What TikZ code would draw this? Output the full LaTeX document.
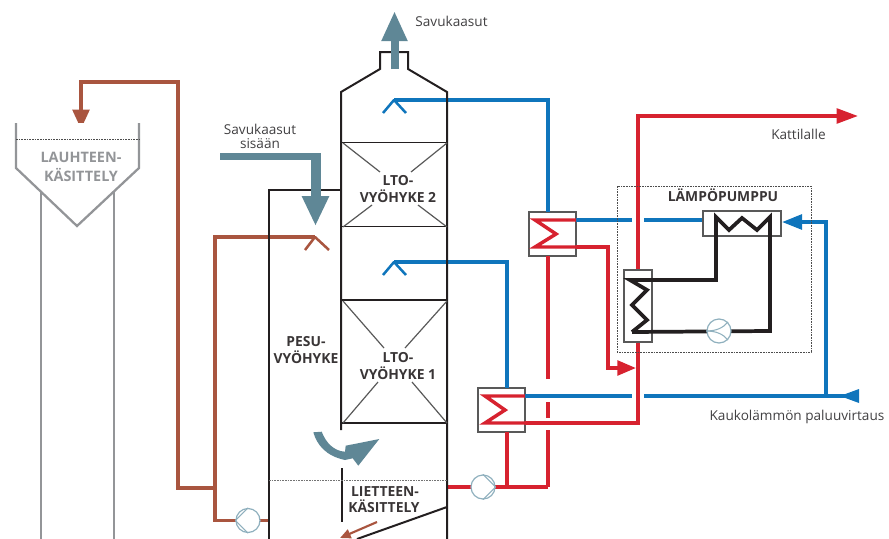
\documentclass[tikz,border=0pt]{standalone}
\usepackage{fontspec}
\setmainfont{Open Sans}
\usetikzlibrary{arrows.meta,calc}
\definecolor{brn}{HTML}{A9553F}
\definecolor{blu}{HTML}{0F75BC}
\definecolor{rd}{HTML}{D7222F}
\definecolor{gas}{HTML}{5F8796}
\definecolor{blk}{HTML}{231F20}
\definecolor{gry}{HTML}{939598}
\definecolor{pmp}{HTML}{8FB0BE}
\definecolor{txt}{HTML}{414042}
\tikzset{
 brownline/.style={draw=brn,line width=2.6pt},
 blueline/.style={draw=blu,line width=2.6pt},
 redline/.style={draw=rd,line width=2.6pt},
 spray/.style={line width=1.9pt,line join=bevel},
 wall/.style={draw=blk,line width=1.5pt},
 thin wall/.style={draw=blk,line width=1.1pt},
 tank/.style={draw=gry,line width=1.7pt},
 diag/.style={draw=black!65,line width=.9pt},
 coil/.style={draw=blk,line width=2.8pt,line join=miter},
 hxbox/.style={draw=black!65,line width=1.2pt,fill=white,inner sep=0pt},
 pump/.style={circle,draw=pmp,line width=.9pt,fill=white,minimum size=18pt,inner sep=0pt},
 pumpin/.style={draw=pmp,line width=.8pt},
 lbl/.style={text=txt,font=\fontsize{10.2}{11}\selectfont,inner sep=0pt},
 zone/.style={text=blk!90,font=\fontsize{10.4}{11}\selectfont\bfseries,inner sep=0pt},
 zonegray/.style={text=gry,font=\fontsize{10.8}{11}\selectfont\bfseries,inner sep=0pt},
}
\begin{document}
\begin{tikzpicture}[x=.75pt,y=-.75pt]
\useasboundingbox (0,0) rectangle (889,539);
\clip (0,0) rectangle (889,539);
% ---- named points
\coordinate (bTop1) at (178,82);
\coordinate (bTop2) at (81,82);
\coordinate (bEnd) at (81,129);
\coordinate (bJoin) at (215,488);
\coordinate (bLow) at (215,520.5);
\coordinate (bCol) at (269,520.5);
\coordinate (sprB) at (315,237);
\coordinate (sprT2) at (394,100);
\coordinate (sprT1) at (394,262);
\coordinate (bv2) at (548,100);
\coordinate (bv1) at (507,262);
\coordinate (gasIn) at (220,156.5);
\coordinate (gasC) at (315.5,156.5);
\coordinate (gasTip) at (315.5,226);
\coordinate (stackB) at (394.5,69);
\coordinate (stackT) at (394.5,11);
% ---- heat exchanger boxes etc.
\node[hxbox,minimum width=35.25pt,minimum height=33pt] (hx2) at (552.5,234) {};
\node[hxbox,minimum width=35.25pt,minimum height=33pt] (hx1) at (501.5,410) {};
\coordinate (hx2t) at (548,212);
\coordinate (hx2b) at (548,256);
\coordinate (hx1t) at (507,388);
\coordinate (hx1b) at (507,432);
\coordinate (h2a) at (576,220);
\coordinate (h2b) at (576,247);
\coordinate (h1a) at (525,396);
\coordinate (h1b) at (525,423);
% ---- brown circuit
\draw[brownline,-{Triangle[length=14.5pt,width=12.5pt]}] (bJoin) -| (bTop1) -- (bTop2) -- (bEnd);
\draw[brownline] (sprB) -| (bLow) -- (bCol);
\draw[brn,spray] (305,250) -- (sprB) -- (329,250);
% ---- red circuit
\coordinate (rLow) at (548,487);
\coordinate (rTee) at (507,487);
\coordinate (rCol) at (447,487);
\coordinate (rBig) at (638,423);
\coordinate (rTop) at (638,116);
\coordinate (rEnd) at (858,116);
\coordinate (rMid) at (608,247);
\coordinate (rMid2) at (608,368);
\coordinate (rTip) at (636,368);
\draw[redline] (rCol) -- (rLow);
\draw[redline] (hx1b) -- (rTee);
\draw[redline] (rLow) -- (548,430);
\draw[redline] (548,418) -- (548,402);
\draw[redline] (548,379) -- (hx2b);
\draw[redline,-{Triangle[length=16pt,width=11pt]}] (h1b) -| (rTop) -- (rEnd);
\draw[redline,-{Triangle[length=14pt,width=11pt]}] (h2b) -- (rMid) -- (rMid2) -- (rTip);
% ---- blue circuit
\coordinate (bRet) at (852,396);
\coordinate (bRetJ) at (826,396);
\coordinate (bRetT) at (826,222);
\coordinate (bHP) at (782,222);
\coordinate (gapL1) at (632,396);
\coordinate (gapR1) at (644,396);
\coordinate (gapL2) at (632,220);
\coordinate (gapR2) at (703,220);
\coordinate (gapM2) at (644,220);
\draw[blu,spray] (383,113) -- (sprT2) -- (406,113);
\draw[blu,spray] (383,275) -- (sprT1) -- (406,275);
\draw[blueline] (sprT2) -- (bv2) -- (hx2t);
\draw[blueline] (sprT1) -- (bv1) -- (hx1t);
\draw[blueline] (h2a) -- (gapL2);
\draw[blueline] (gapM2) -- (gapR2);
\draw[blueline] (h1a) -- (gapL1);
\draw[blueline,-{Triangle[length=15pt,width=11pt]}] (bRetJ) |- (bHP);
\draw[blueline] (gapR1) -- (bRet);
\fill[blu] (840,396) -- (859,389) -- (859,403) -- cycle;
% ---- sigma coils
\draw[redline,line join=miter] (h2a) -- (535,220) -- (556,234) -- (535,247) -- (h2b);
\draw[redline,line join=miter] (h1a) -- (485,396) -- (505,410) -- (485,423) -- (h1b);
% ---- tank
\draw[tank] (41,192) -- (41,539);
\draw[tank] (114,192) -- (114,539);
\draw[tank,fill=white] (16,123) -- (16,168) -- (77,226) -- (139,168) -- (139,123);
\draw[black!70,line width=.5pt,dash pattern=on 1.2pt off .8pt] (16,139.5) -- (139,139.5);
\node[zonegray] (lauh1) at (81,157) {LAUHTEEN-};
\node[zonegray] (lauh2) at (81,175) {KÄSITTELY};
% ---- column
\draw[wall,line join=miter] (341,430) -- (341,92) -- (380,69) -- (380,52) -- (408,52) -- (408,69) -- (447,92) -- (447,539);
\draw[wall] (269,539) -- (269,190) -- (341,190);
\draw[thin wall] (341,142.5) -- (447,142.5);
\draw[thin wall] (341,226.5) -- (447,226.5);
\draw[thin wall] (341,300) -- (447,300);
\draw[thin wall] (341,423) -- (447,423);
\draw[wall] (342,468) -- (342,522);
\draw[wall] (447,507) -- (357,539);
\draw[black!55,line width=.5pt,dash pattern=on 1.2pt off .8pt] (269,480) -- (447,480);
\draw[diag] (343,143) -- (380,172);
\draw[diag] (447,143) -- (411,172);
\draw[diag] (343,227) -- (372,205);
\draw[diag] (447,227) -- (418,205);
\draw[diag] (343,301) -- (384,348);
\draw[diag] (447,301) -- (405,348);
\draw[diag] (343,423) -- (378,382);
\draw[diag] (447,423) -- (412,382);
% ---- gas flows
\draw[gas,line width=5.2pt] (gasIn) -- (gasC) ;
\draw[gas,line width=7.5pt,-{Triangle[length=22.5pt,width=19pt]}] (315.5,153) -- (gasTip);
\draw[gas,line width=6pt,-{Triangle[length=22.5pt,width=18pt]}] (stackB) -- (stackT);
\fill[gas] (313.3,432.3) .. controls (317,445) and (326,456) .. (345,460) -- (352.7,458.3) -- (358.3,465.7) -- (379.3,439) -- (345.7,445.7) -- (345,451.7) .. controls (334,451) and (326,443) .. (321.7,431.7) -- cycle;
\draw[brn,line width=1.6pt,-{Triangle[length=8pt,width=7pt]}] (377,522) -- (340,538);
% ---- heat pump
\draw[black!70,line width=.6pt,dash pattern=on 1.2pt off .8pt] (617,186) rectangle (811,352);
\node[hxbox,minimum width=58.5pt,minimum height=18.75pt] (cond) at (742,223.5) {};
\node[hxbox,minimum width=21pt,minimum height=54pt] (evap) at (638,306) {};
\coordinate (c1) at (716,280);
\coordinate (c2) at (770,331);
\draw[coil] (632,332) -- (c2) -- (770,217) -- (757,230) -- (742,218) -- (729,230) -- (716,217) -- (c1) -- (630,280) -- (647,290) -- (632,305) -- (647,320) -- (632,332);
\node[pump] (php) at (719,331) {};
\draw[pumpin] (php.west) .. controls (716,331) and (723,328) .. (php.north east);
\draw[pumpin] (php.west) .. controls (716,331) and (723,334) .. (php.south east);
% ---- pumps
\node[pump] (pb) at (248,520.5) {};
\draw[pumpin] (pb.west) -- (pb.north);
\draw[pumpin] (pb.west) -- (pb.south);
\node[pump] (pr) at (483,487) {};
\draw[pumpin] (pr.east) -- (pr.north);
\draw[pumpin] (pr.east) -- (pr.south);
% ---- labels
\node[lbl] (t1) at (451.5,21) {Savukaasut};
\node[lbl] (t2) at (260,129) {Savukaasut};
\node[lbl] (t3) at (260,144) {sisään};
\node[lbl] (t4) at (798.5,134) {Kattilalle};
\node[lbl] (t5) at (797,417) {Kaukolämmön paluuvirtaus};
\node[zone] (z1) at (723,195) {LÄMPÖPUMPPU};
\node[zone] (z2) at (398,181) {LTO-};
\node[zone] (z3) at (398,196) {VYÖHYKE 2};
\node[zone] (z4) at (398,358) {LTO-};
\node[zone] (z5) at (398,373) {VYÖHYKE 1};
\node[zone] (z6) at (306,342) {PESU-};
\node[zone] (z7) at (306,357) {VYÖHYKE};
\node[zone] (z8) at (385,492) {LIETTEEN-};
\node[zone] (z9) at (384,506) {KÄSITTELY};
\end{tikzpicture}
\end{document}
